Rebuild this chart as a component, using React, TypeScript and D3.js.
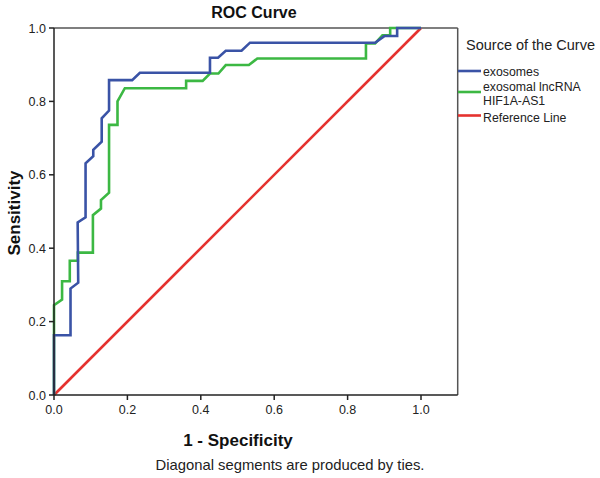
import React from "react";
import * as d3 from "d3";

const xTicks = [0, 0.2, 0.4, 0.6, 0.8, 1.0];
const yTicks = [0, 0.2, 0.4, 0.6, 0.8, 1.0];

const exosomesFpr = [0, 0, 0.045, 0.045, 0.066, 0.0645, 0.086, 0.086, 0.107, 0.107, 0.13, 0.13, 0.15, 0.15, 0.213, 0.234, 0.425, 0.425, 0.447, 0.468, 0.511, 0.534, 0.875, 0.9, 0.935, 0.935, 1.0];
const exosomesTpr = [0, 0.163, 0.163, 0.29, 0.306, 0.47, 0.484, 0.631, 0.651, 0.668, 0.69, 0.754, 0.775, 0.858, 0.858, 0.878, 0.878, 0.919, 0.919, 0.938, 0.938, 0.96, 0.96, 0.978, 0.978, 1.0, 1.0];

const lncFpr = [0, 0, 0.022, 0.022, 0.043, 0.043, 0.065, 0.065, 0.106, 0.106, 0.128, 0.128, 0.15, 0.15, 0.173, 0.173, 0.193, 0.36, 0.36, 0.405, 0.425, 0.448, 0.468, 0.531, 0.554, 0.85, 0.85, 0.875, 0.895, 0.916, 0.916, 1.0];
const lncTpr = [0, 0.245, 0.26, 0.31, 0.31, 0.366, 0.366, 0.388, 0.388, 0.49, 0.508, 0.531, 0.551, 0.736, 0.736, 0.8, 0.836, 0.836, 0.856, 0.856, 0.876, 0.876, 0.899, 0.899, 0.917, 0.917, 0.958, 0.958, 0.98, 0.98, 1.0, 1.0];

const refFpr = [0, 1];
const refTpr = [0, 1];

const seriesNames = ["exosomes", "exosomal lncRNA\nHIF1A-AS1", "Reference Line"];
const seriesColors = ["#3a53a6", "#3cb843", "#e5322f"];

export default function App() {
  const W = 600, H = 478;
  const x = d3.scaleLinear().domain([0, 1.1]).range([54, 457.7]);
  const y = d3.scaleLinear().domain([0, 1]).range([395, 28]);
  const line = d3.line<[number, number]>().x(d => x(d[0])).y(d => y(d[1]));
  const zip = (a: number[], b: number[]) => a.map((v, i) => [v, b[i]] as [number, number]);
  const series = [zip(exosomesFpr, exosomesTpr), zip(lncFpr, lncTpr), zip(refFpr, refTpr)];
  const font = "Arial, 'Liberation Sans', sans-serif";
  const drawOrder = [2, 1, 0];
  const legendY = [71, 92, 115.5];
  const legendTextY = [[76], [91, 104.5], [121.5]];

  return (
    <svg width={W} height={H} style={{ position: "absolute", left: 0, top: 0, display: "block", background: "#fff" }} fontFamily={font}>
      <rect x={0} y={0} width={W} height={H} fill="#fff" />
      <text x={254} y={18} textAnchor="middle" fontSize={16} fontWeight="bold" fill="#111">ROC Curve</text>
      {/* plot frame */}
      <line x1={x(0)} x2={x(1.1)} y1={y(1)} y2={y(1)} stroke="#555" strokeWidth={1.5} />
      <line x1={x(1.1)} x2={x(1.1)} y1={y(1)} y2={y(0)} stroke="#555" strokeWidth={1.5} />
      {drawOrder.map(i => (
        <path key={i} d={line(series[i]) || ""} fill="none" stroke={seriesColors[i]} strokeWidth={2.6} strokeLinejoin="miter" />
      ))}
      {/* axes */}
      <line x1={x(0)} x2={x(1.1)} y1={y(0)} y2={y(0)} stroke="#222" strokeWidth={1.5} />
      <line x1={x(0)} x2={x(0)} y1={y(0)} y2={y(1)} stroke="#222" strokeWidth={1.5} />
      {xTicks.map(t => (
        <g key={"x" + t}>
          <line x1={x(t)} x2={x(t)} y1={y(0)} y2={y(0) + 5} stroke="#222" strokeWidth={1.5} />
          <text x={x(t)} y={y(0) + 19} textAnchor="middle" fontSize={12.5} fill="#222">{t.toFixed(1)}</text>
        </g>
      ))}
      {yTicks.map(t => (
        <g key={"y" + t}>
          <line x1={x(0) - 5} x2={x(0)} y1={y(t)} y2={y(t)} stroke="#222" strokeWidth={1.5} />
          <text x={x(0) - 8} y={y(t) + 4.5} textAnchor="end" fontSize={12.5} fill="#222">{t.toFixed(1)}</text>
        </g>
      ))}
      <text x={238} y={446} textAnchor="middle" fontSize={17} fontWeight="bold" fill="#111">1 - Specificity</text>
      <text transform={`translate(20,213) rotate(-90)`} textAnchor="middle" fontSize={17} fontWeight="bold" fill="#111">Sensitivity</text>
      <text x={290} y={470} textAnchor="middle" fontSize={14.8} fill="#222">Diagonal segments are produced by ties.</text>
      {/* legend */}
      <text x={466} y={50} fontSize={14.5} fill="#222">Source of the Curve</text>
      {seriesNames.map((name, i) => {
        const lines = name.split("\n");
        return (
          <g key={name}>
            <line x1={458} x2={481} y1={legendY[i]} y2={legendY[i]} stroke={seriesColors[i]} strokeWidth={2.6} />
            {lines.map((l, j) => (
              <text key={j} x={483} y={legendTextY[i][j]} fontSize={12.3} fill="#222">{l}</text>
            ))}
          </g>
        );
      })}
    </svg>
  );
}
